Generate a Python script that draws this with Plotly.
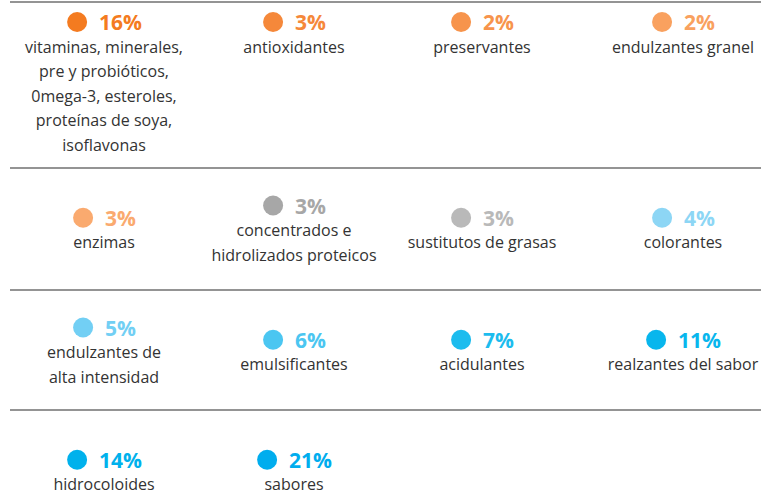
import plotly.graph_objects as go

# ---- data ----
labels = [
    "vitaminas, minerales,\npre y probióticos,\n0mega-3, esteroles,\nproteínas de soya,\nisoflavonas",
    "antioxidantes",
    "preservantes",
    "endulzantes granel",
    "enzimas",
    "concentrados e\nhidrolizados proteicos",
    "sustitutos de grasas",
    "colorantes",
    "endulzantes de\nalta intensidad",
    "emulsificantes",
    "acidulantes",
    "realzantes del sabor",
    "hidrocoloides",
    "sabores",
]
values = [16, 3, 2, 2, 3, 3, 3, 4, 5, 6, 7, 11, 14, 21]
colors = [
    "#F47B20", "#F5883A", "#F7944C", "#F9A15F",
    "#FAAA6F", "#A7A7A7", "#B9B9B9", "#8DD6F5",
    "#72CFF4", "#4BC6F1", "#1CBCEE", "#08B6ED",
    "#00B1EC", "#00ADEE",
]

# ---- layout constants (pixels) ----
W, H = 761, 492
N_COLS = 4
COL_X = [104, 294, 482, 683]
ROW_LINES = [2, 168, 290, 410]
ROW_H = 120
DOT_SIZE = 20
GAP = 12
LINE_H = 24.5
DOT_TO_LABEL = 26.5
PCT_SIZE = 21

fig = go.Figure()

dot_x, dot_y = [], []
annotations = []
lab_x, lab_y, lab_t = [], [], []

for i, (lab, val, col) in enumerate(zip(labels, values, colors)):
    r, c = divmod(i, N_COLS)
    cx = COL_X[c]
    lines = lab.split("\n")
    n = len(lines)
    if r == 0:
        dy = ROW_LINES[0] + 20
    else:
        top = ROW_LINES[r]
        center = top + ROW_H / 2 + 3
        block = DOT_TO_LABEL + (n - 1) * LINE_H
        dy = center - block / 2
    txt = f"{val}%"
    tw = sum(0.85 * PCT_SIZE if ch == "%" else 0.57 * PCT_SIZE for ch in txt)
    gw = DOT_SIZE + GAP + tw
    dx = cx - gw / 2 + DOT_SIZE / 2
    dot_x.append(dx)
    dot_y.append(dy)
    annotations.append(dict(
        x=dx + DOT_SIZE / 2 + GAP - 2, y=dy, xref="x", yref="y",
        text=txt, showarrow=False, xanchor="left", yanchor="middle",
        font=dict(family="Open Sans", size=PCT_SIZE, color=col, weight=700),
    ))
    for k, ln in enumerate(lines):
        lab_x.append(cx)
        lab_y.append(dy + DOT_TO_LABEL + k * LINE_H)
        lab_t.append(ln)

fig.add_trace(go.Scatter(
    x=dot_x, y=dot_y, mode="markers",
    marker=dict(size=DOT_SIZE, color=colors, line=dict(width=0)),
    hoverinfo="skip", showlegend=False,
))
fig.add_trace(go.Scatter(
    x=lab_x, y=lab_y, mode="text", text=lab_t,
    textposition="middle center",
    textfont=dict(family="Open Sans", size=16, color="#333333"),
    hoverinfo="skip", showlegend=False,
))

shapes = [dict(type="line", xref="x", yref="y", x0=10, x1=W, y0=y, y1=y,
               line=dict(color="#707070", width=1.5)) for y in ROW_LINES]

fig.update_layout(
    width=W, height=H,
    margin=dict(l=0, r=0, t=0, b=0),
    paper_bgcolor="white", plot_bgcolor="white",
    xaxis=dict(range=[0, W], visible=False, fixedrange=True),
    yaxis=dict(range=[H, 0], visible=False, fixedrange=True),
    shapes=shapes,
    annotations=annotations,
)

fig.write_html(
    "out.html",
    config={"displayModeBar": False},
    post_script="document.body.style.margin='0';document.body.style.overflow='hidden';",
)
